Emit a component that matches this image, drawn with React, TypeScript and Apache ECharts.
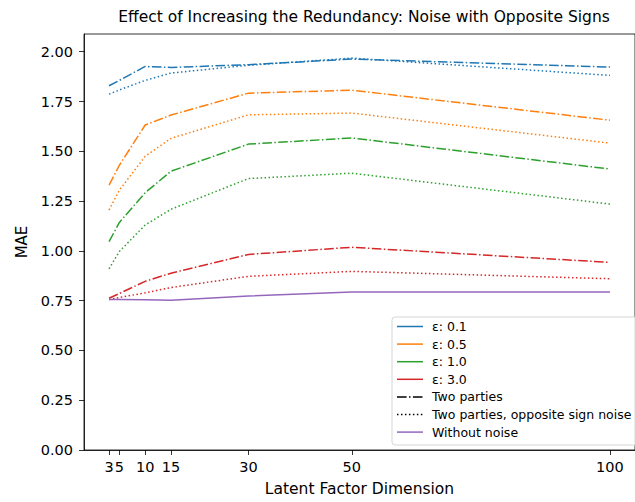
import React, { useEffect, useRef } from "react";
import * as echarts from "echarts";

// Latent factor dimensions on the x axis
const dims = [3, 5, 10, 15, 30, 50, 100];
const yTicks = [0, 0.25, 0.5, 0.75, 1.0, 1.25, 1.5, 1.75, 2.0];

const epsLabels = ["ε: 0.1", "ε: 0.5", "ε: 1.0", "ε: 3.0"];
const epsColors = ["#1f77b4", "#ff7f0e", "#2ca02c", "#d62728"];

// MAE, two parties (dash-dot)
const twoParties01 = [1.829, 1.856, 1.926, 1.921, 1.935, 1.963, 1.923];
const twoParties05 = [1.33, 1.43, 1.632, 1.682, 1.792, 1.807, 1.656];
const twoParties10 = [1.046, 1.143, 1.292, 1.4, 1.536, 1.567, 1.411];
const twoParties30 = [0.762, 0.786, 0.847, 0.888, 0.982, 1.018, 0.942];

// MAE, two parties with opposite sign noise (dotted)
const opposite01 = [1.787, 1.808, 1.856, 1.893, 1.932, 1.968, 1.881];
const opposite05 = [1.205, 1.305, 1.475, 1.565, 1.683, 1.692, 1.541];
const opposite10 = [0.91, 0.997, 1.13, 1.209, 1.363, 1.39, 1.235];
const opposite30 = [0.756, 0.766, 0.789, 0.816, 0.872, 0.897, 0.86];

// MAE without noise
const withoutNoise = [0.756, 0.756, 0.754, 0.752, 0.773, 0.794, 0.794];

const legendLabels = [
  ...epsLabels,
  "Two parties",
  "Two parties, opposite sign noise",
  "Without noise",
];

const FONT = "DejaVu Sans";
const LW = 1.5;
const DASH_DOT = [9.6, 2.4, 1.5, 2.4];
const DOTTED = [1.5, 2.475];

export default function App() {
  const ref = useRef<HTMLDivElement>(null);

  useEffect(() => {
    if (!ref.current) return;
    const chart = echarts.init(ref.current, undefined, { renderer: "svg" });

    const pairs = (vals: number[]) => dims.map((d, i) => [d, vals[i]]);
    const line = (name: string, vals: number[], color: string, dash: any) => ({
      name,
      type: "line",
      data: pairs(vals),
      showSymbol: false,
      lineStyle: { color, width: LW, type: dash, cap: "butt" },
      itemStyle: { color },
      z: 2,
    });

    const dashed = [twoParties01, twoParties05, twoParties10, twoParties30];
    const dotted = [opposite01, opposite05, opposite10, opposite30];

    const series: any[] = [];
    for (let k = 0; k < 4; k++) {
      series.push(line(epsLabels[k] + " two parties", dashed[k], epsColors[k], DASH_DOT));
      series.push(line(epsLabels[k] + " opposite", dotted[k], epsColors[k], DOTTED));
    }
    series.push(line("Without noise", withoutNoise, "#9467bd", "solid"));

    // legend box drawn as graphic elements
    const lx = 392;
    const ly = 317;
    const rowY0 = 326.5;
    const rowH = 17.6;
    const handleStyles = [
      ...epsColors.map((c) => ({ stroke: c, lineDash: null as any })),
      { stroke: "#000", lineDash: DASH_DOT },
      { stroke: "#000", lineDash: DOTTED },
      { stroke: "#9467bd", lineDash: null as any },
    ];
    const legendEls: any[] = [
      {
        type: "rect",
        shape: { x: lx, y: ly, width: 270, height: 128, r: 3 },
        style: { fill: "rgba(255,255,255,0.8)", stroke: "#d6d6d6", lineWidth: 1 },
        z: 10,
      },
    ];
    legendLabels.forEach((lab, i) => {
      const y = rowY0 + i * rowH;
      legendEls.push({
        type: "line",
        shape: { x1: 397, y1: y, x2: 423, y2: y },
        style: {
          stroke: handleStyles[i].stroke,
          lineWidth: LW,
          lineDash: handleStyles[i].lineDash,
        },
        z: 11,
      });
      legendEls.push({
        type: "text",
        x: 432,
        y,
        style: {
          text: lab,
          fontFamily: FONT,
          fontSize: 12.5,
          fill: "#000",
          verticalAlign: "middle",
          align: "left",
        },
        z: 11,
      });
    });

    chart.setOption({
      animation: false,
      backgroundColor: "#fff",
      textStyle: { fontFamily: FONT },
      grid: {
        left: 84,
        top: 34,
        width: 560,
        height: 416,
        show: true,
        borderColor: "#000",
        borderWidth: 0.8,
        backgroundColor: "transparent",
      },
      xAxis: {
        type: "value",
        min: -1.85,
        max: 104.85,
        name: "Latent Factor Dimension",
        nameLocation: "middle",
        nameGap: 31,
        nameTextStyle: { fontFamily: FONT, fontSize: 15.5, color: "#000" },
        axisLine: { show: true, onZero: false, lineStyle: { color: "#000", width: 0.8 } },
        axisTick: {
          show: true,
          length: 5,
          customValues: dims,
          lineStyle: { color: "#000", width: 0.8 },
        },
        axisLabel: {
          customValues: dims,
          fontFamily: FONT,
          fontSize: 14.5,
          color: "#000",
          margin: 9,
        },
        splitLine: { show: false },
      },
      yAxis: {
        type: "value",
        min: 0,
        max: 2.089,
        name: "MAE",
        nameLocation: "middle",
        nameGap: 55,
        nameTextStyle: { fontFamily: FONT, fontSize: 15, color: "#000" },
        axisLine: { show: true, onZero: false, lineStyle: { color: "#000", width: 0.8 } },
        axisTick: {
          show: true,
          length: 5,
          customValues: yTicks,
          lineStyle: { color: "#000", width: 0.8 },
        },
        axisLabel: {
          customValues: yTicks,
          fontFamily: FONT,
          fontSize: 14.5,
          color: "#000",
          margin: 11,
          formatter: (v: number) => v.toFixed(2),
        },
        splitLine: { show: false },
      },
      graphic: [
        {
          type: "text",
          x: 364,
          y: 17,
          style: {
            text: "Effect of Increasing the Redundancy: Noise with Opposite Signs",
            fontFamily: FONT,
            fontSize: 15.5,
            fill: "#000",
            align: "center",
            verticalAlign: "middle",
          },
        },
        ...legendEls,
      ],
      series,
    });

    return () => chart.dispose();
  }, []);

  return (
    <div
      ref={ref}
      style={{ position: "fixed", left: 0, top: 0, width: 635, height: 502 }}
    />
  );
}
